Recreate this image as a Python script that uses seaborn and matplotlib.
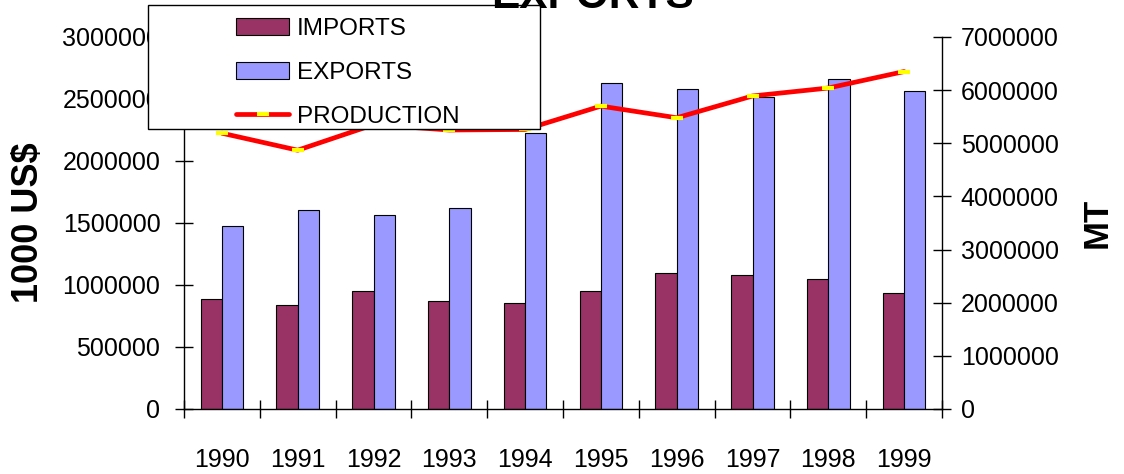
import numpy as np
import pandas as pd
import matplotlib
matplotlib.use("Agg")
import matplotlib.pyplot as plt
import seaborn as sns
from matplotlib.patches import Patch, Rectangle
from matplotlib.lines import Line2D
from matplotlib.ticker import FixedLocator, StrMethodFormatter, NullFormatter

# ---- data ----
years = ["1990", "1991", "1992", "1993", "1994", "1995", "1996", "1997", "1998", "1999"]
imports = [885000, 836000, 949000, 869000, 855000, 949000, 1094000, 1081000, 1046000, 935000]
exports = [1476000, 1605000, 1565000, 1621000, 2226000, 2627000, 2578000, 2519000, 2659000, 2565000]
production = [5190000, 4870000, 5350000, 5250000, 5260000, 5700000, 5480000, 5890000, 6040000, 6350000]
left_ticks = [0, 500000, 1000000, 1500000, 2000000, 2500000, 3000000]
right_ticks = [0, 1000000, 2000000, 3000000, 4000000, 5000000, 6000000, 7000000]

imp_color = "#993366"
exp_color = "#9999FF"

sns.set_style("white")
plt.rcParams["font.family"] = ["Liberation Sans", "DejaVu Sans"]
plt.rcParams.update({"text.color": "black", "axes.labelcolor": "black",
                     "xtick.color": "black", "ytick.color": "black",
                     "axes.edgecolor": "black"})

W, H = 1124, 474
fig = plt.figure(figsize=(W / 100, H / 100), dpi=100)
ax = fig.add_axes([184 / W, 1 - 409 / H, (942 - 184) / W, (409 - 37) / H])

df = pd.DataFrame({
    "year": years * 2,
    "value": imports + exports,
    "series": ["IMPORTS"] * len(years) + ["EXPORTS"] * len(years),
})
sns.barplot(data=df, x="year", y="value", hue="series", order=years,
            hue_order=["IMPORTS", "EXPORTS"],
            palette={"IMPORTS": imp_color, "EXPORTS": exp_color},
            width=0.56, gap=0, edgecolor="black", linewidth=0.8,
            saturation=1, legend=False, ax=ax)

ax.set_xlim(-0.5, len(years) - 0.5)
ax.set_ylim(0, 3000000)
ax.set_xlabel("")
ax.set_ylabel("1000 US$", fontsize=26, fontweight="bold", labelpad=12)

ax2 = ax.twinx()
pos = np.arange(len(years))
sns.lineplot(x=pos, y=production, ax=ax2, color="#FF0000", linewidth=3.4,
             marker="_", markersize=9, markeredgewidth=3,
             markeredgecolor="#FFFF00", markerfacecolor="#FFFF00", sort=False)
ax2.set_ylim(0, 7000000)
ax2.set_ylabel("MT", fontsize=25, fontweight="bold", labelpad=16)

# x ticks: boundaries as major ticks, labels on minor
ax.xaxis.set_major_locator(FixedLocator(np.arange(len(years) + 1) - 0.5))
ax.xaxis.set_major_formatter(NullFormatter())
ax.set_xticks(pos, labels=years, minor=True)
ax.tick_params(axis="x", which="major", direction="inout", length=13, width=1,
               color="black", bottom=True)
ax.tick_params(axis="x", which="minor", length=0, pad=28, labelsize=18, bottom=True)

ax.yaxis.set_major_locator(FixedLocator(left_ticks))
ax.yaxis.set_major_formatter(StrMethodFormatter("{x:.0f}"))
ax.tick_params(axis="y", direction="inout", length=13, width=1, color="black",
               labelsize=18, pad=10.5, left=True)
ax2.yaxis.set_major_locator(FixedLocator(right_ticks))
ax2.yaxis.set_major_formatter(StrMethodFormatter("{x:.0f}"))
ax2.tick_params(axis="y", direction="inout", length=13, width=1, color="black",
                labelsize=18, pad=7, right=True)

for a in (ax, ax2):
    a.spines["top"].set_visible(False)
    for s in ("left", "right", "bottom"):
        a.spines[s].set_color("black")
        a.spines[s].set_linewidth(1.0)
    a.grid(False)
ax.spines["right"].set_visible(False)
ax2.spines["left"].set_visible(False)
ax2.spines["bottom"].set_visible(False)

# legend box
rect = Rectangle((148 / W, 1 - 129 / H), (540 - 148) / W, (129 - 5) / H,
                 transform=fig.transFigure, facecolor="white", edgecolor="black",
                 linewidth=1.0, zorder=4)
fig.add_artist(rect)
handles = [
    Patch(facecolor=imp_color, edgecolor="black", linewidth=0.8, label="IMPORTS"),
    Patch(facecolor=exp_color, edgecolor="black", linewidth=0.8, label="EXPORTS"),
    Line2D([], [], color="#FF0000", linewidth=3.4, marker="_", markersize=9,
           markeredgewidth=3, markeredgecolor="#FFFF00", label="PRODUCTION"),
]
leg = fig.legend(handles=handles, loc="upper left",
                 bbox_to_anchor=(236 / W, 1 - 18 / H), frameon=False,
                 fontsize=17.5, borderpad=0, borderaxespad=0,
                 handlelength=2.2, handletextpad=0.3, labelspacing=0.9)
leg.set_zorder(5)

fig.text(592 / W, 1 - 8 / H, "EXPORTS", ha="center", va="baseline",
         fontsize=30.5, fontweight="bold", zorder=6)

fig.savefig("out.png", dpi=100)
